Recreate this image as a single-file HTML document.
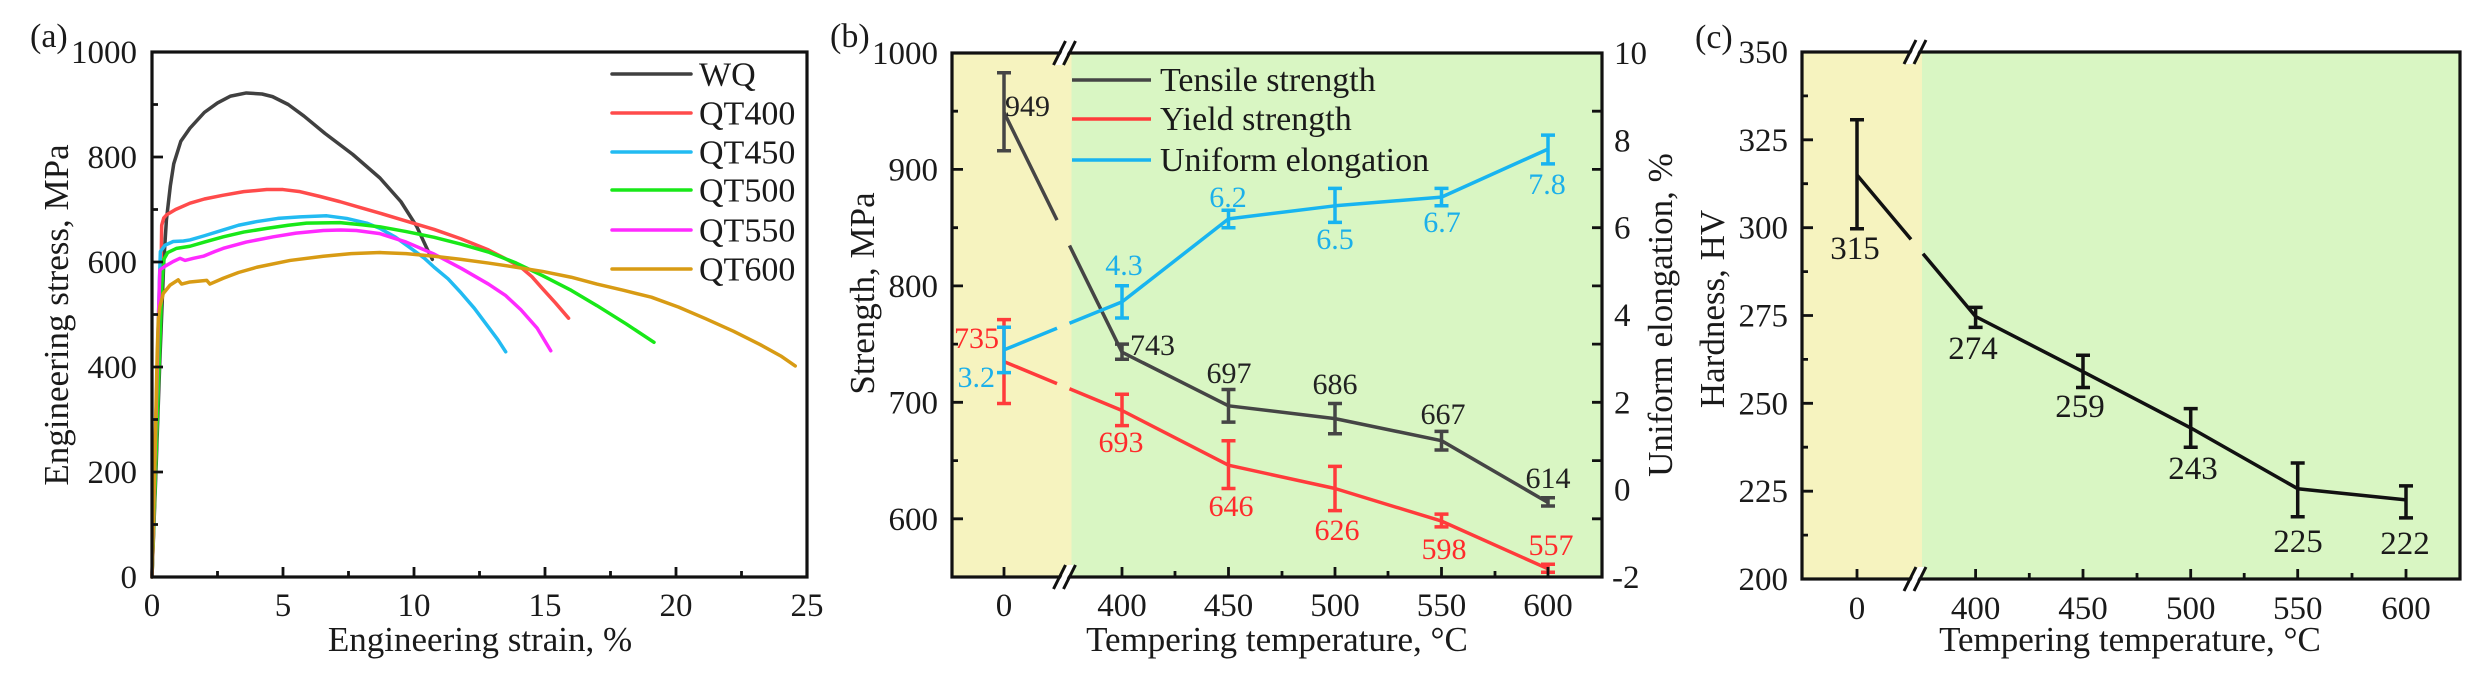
<!DOCTYPE html>
<html><head><meta charset="utf-8"><style>html,body{margin:0;padding:0;background:#fff}svg{display:block}text{font-family:"Liberation Serif",serif}</style></head>
<body>
<svg width="2475" height="673" viewBox="0 0 2475 673" xmlns="http://www.w3.org/2000/svg">
<rect width="2475" height="673" fill="#fff"/>

<!-- ============ Panel (a) ============ -->
<g fill="none" stroke-width="3.5" stroke-linejoin="round" stroke-linecap="round">
<g transform="translate(152 577) scale(26.2 -0.525)">
<polyline vector-effect="non-scaling-stroke" stroke="#404040" points="0,0 0.15,200 0.3,413 0.45,600 0.55,680 0.7,745 0.83,787 1.1,830 1.45,855 2,885 2.5,903 3,916 3.6,922 4.2,920 4.6,915 5.2,900 5.8,878 6.6,845 7.66,805 8.7,760 9.5,715 10.1,668 10.5,625 10.7,605"/>
<polyline vector-effect="non-scaling-stroke" stroke="#ff4b4b" points="0,0 0.2,300 0.35,600 0.37,670 0.45,684 0.56,690 0.9,700 1.45,712 2,720 2.7,727 3.5,734 4.38,738 5,738 5.65,734 6.4,725 7.17,715 8,703 8.7,693 9.7,678 10.77,662 11.8,644 12.84,623 13.5,606 14.08,590 14.5,572 14.91,549 15.4,522 15.9,493"/>
<polyline vector-effect="non-scaling-stroke" stroke="#22bbf2" points="0,0 0.15,300 0.28,560 0.32,620 0.5,632 0.81,639 1.2,640 1.45,642 2,650 2.72,661 3.3,670 4,677 4.8,683 5.65,686 6.67,688 7.43,683 8.2,674 8.7,664 9.3,647 9.94,624 10.4,607 10.77,590 11.3,568 11.8,541 12.3,512 12.84,476 13.2,452 13.5,429"/>
<polyline vector-effect="non-scaling-stroke" stroke="#18e818" points="0,0 0.2,300 0.38,560 0.45,605 0.6,618 0.94,626 1.45,630 2,638 2.72,648 3.5,657 4.38,664 5.2,670 5.9,674 7.17,675 8,671 8.7,667 9.7,658 10.77,647 11.8,634 12.84,619 13.9,598 14.91,574 16,546 16.98,517 18.1,482 19.16,447"/>
<polyline vector-effect="non-scaling-stroke" stroke="#ff2aff" points="0,0 0.15,300 0.26,520 0.3,585 0.5,592 0.81,601 1.07,607 1.26,603 1.58,607 1.96,611 2.4,620 2.72,626 3.6,638 4.63,648 5.5,655 6.54,660 7.2,661 7.8,660 8.7,654 9.7,638 10.77,615 11.8,588 12.84,558 13.5,536 14.08,509 14.7,474 15.22,431"/>
<polyline vector-effect="non-scaling-stroke" stroke="#d89b14" points="0,0 0.12,250 0.2,430 0.24,490 0.3,515 0.43,540 0.69,556 1,566 1.13,558 1.45,562 2.09,565 2.21,558 2.72,569 3.3,580 4,590 5.27,603 6.54,611 7.6,616 8.7,618 9.7,616 10.77,611 11.8,605 12.84,598 13.9,590 14.91,582 16,571 16.98,558 18,546 19.06,533 20.1,514 21.13,492 22.2,468 23.2,443 24,421 24.55,402"/>
</g>
<!-- legend a -->
<path stroke="#404040" d="M612 74H691"/>
<path stroke="#ff4b4b" d="M612 113H691"/>
<path stroke="#22bbf2" d="M612 152H691"/>
<path stroke="#18e818" d="M612 190H691"/>
<path stroke="#ff2aff" d="M612 230H691"/>
<path stroke="#d89b14" d="M612 269H691"/>
</g>
<rect x="152" y="52" width="655" height="525" fill="none" stroke="#111" stroke-width="3.2"/>
<path stroke="#111" stroke-width="2.8" fill="none" d="M152 157h11M152 262h11M152 367h11M152 472h11M152 104.5h6M152 209.5h6M152 314.5h6M152 419.5h6M152 524.5h6M283 577v-10M414 577v-10M545 577v-10M676 577v-10M217.5 577v-6M348.5 577v-6M479.5 577v-6M610.5 577v-6M741.5 577v-6"/>
<g font-size="33" fill="#1a1a1a" text-anchor="end">
<text x="137" y="63">1000</text><text x="137" y="168">800</text><text x="137" y="273">600</text><text x="137" y="378">400</text><text x="137" y="483">200</text><text x="137" y="588">0</text>
</g>
<g font-size="33" fill="#1a1a1a" text-anchor="middle">
<text x="152" y="616">0</text><text x="283" y="616">5</text><text x="414" y="616">10</text><text x="545" y="616">15</text><text x="676" y="616">20</text><text x="807" y="616">25</text>
</g>
<g font-size="34" fill="#1a1a1a">
<text x="699" y="85.5">WQ</text><text x="699" y="124.5">QT400</text><text x="699" y="163.5">QT450</text><text x="699" y="201.5">QT500</text><text x="699" y="241.5">QT550</text><text x="699" y="280.5">QT600</text>
</g>
<text x="480" y="651" font-size="35" fill="#1a1a1a" text-anchor="middle">Engineering strain, %</text>
<text transform="translate(68 315) rotate(-90)" font-size="35" fill="#1a1a1a" text-anchor="middle">Engineering stress, MPa</text>
<text x="30" y="47" font-size="34" fill="#1a1a1a">(a)</text>

<!-- ============ Panel (b) ============ -->
<rect x="952" y="53" width="120" height="524" fill="#f6f3bf"/>
<rect x="1071.5" y="53" width="530.5" height="524" fill="#d9f6c3"/>
<g fill="none" stroke-width="3.5" stroke-linejoin="round">
<path stroke="#454545" d="M1004 112.4L1057 220.1M1069.5 245.5L1122 352.2L1228.5 405.8L1335 418.6L1441.5 440.7L1548 502.5"/>
<path stroke="#454545" d="M1004 72.8V150.8M997 72.8h14M997 150.8h14M1122 344.1V359.2M1115 344.1h14M1115 359.2h14M1228.5 389.5V422.1M1221.5 389.5h14M1221.5 422.1h14M1335 403.5V433.8M1328 403.5h14M1328 433.8h14M1441.5 431.4V450M1434.5 431.4h14M1434.5 450h14M1548 497.8V506M1541 497.8h14M1541 506h14"/>
<path stroke="#ff3b3b" d="M1004 361.6L1057 383.6M1069.5 388.7L1122 410.5L1228.5 465.2L1335 488.5L1441.5 521.1L1548 568.8"/>
<path stroke="#ff3b3b" d="M1004 319.6V403.5M997 319.6h14M997 403.5h14M1122 394.2V425.6M1115 394.2h14M1115 425.6h14M1228.5 440.7V488.5M1221.5 440.7h14M1221.5 488.5h14M1335 466.4V510.6M1328 466.4h14M1328 510.6h14M1441.5 514.1V526.9M1434.5 514.1h14M1434.5 526.9h14M1548 564.2V572.3M1541 564.2h14M1541 572.3h14"/>
<path stroke="#18b4f0" d="M1004 349.9L1057 328.3M1069.5 323.3L1122 301.9L1228.5 218.9L1335 205.8L1441.5 197.1L1548 149.1"/>
<path stroke="#18b4f0" d="M1004 327.2V372.6M997 327.2h14M997 372.6h14M1122 285.7V318M1115 285.7h14M1115 318h14M1228.5 210.2V227.7M1221.5 210.2h14M1221.5 227.7h14M1335 188.4V222.4M1328 188.4h14M1328 222.4h14M1441.5 188.4V205.8M1434.5 188.4h14M1434.5 205.8h14M1548 135.1V163.9M1541 135.1h14M1541 163.9h14"/>
<!-- legend b -->
<path stroke="#454545" d="M1072 80H1151"/>
<path stroke="#ff3b3b" d="M1072 119H1151"/>
<path stroke="#18b4f0" d="M1072 160H1151"/>
</g>
<rect x="952" y="53" width="650" height="524" fill="none" stroke="#111" stroke-width="3.2"/>
<path stroke="#111" stroke-width="2.8" fill="none" d="M952 169.4h11M952 285.9h11M952 402.3h11M952 518.8h11M952 111.2h6M952 227.7h6M952 344.1h6M952 460.6h6M1602 111.2h-10M1602 169.4h-10M1602 227.7h-10M1602 285.9h-10M1602 344.1h-10M1602 402.3h-10M1602 460.6h-10M1602 518.8h-10M1004 577v-10M1122 577v-10M1228.5 577v-10M1335 577v-10M1441.5 577v-10M1548 577v-10M1175 577v-6M1282 577v-6M1388 577v-6M1495 577v-6"/>
<!-- breaks b -->
<polygon points="1055.5,65 1067.5,41 1073.5,41 1061.5,65" fill="#fff"/>
<polygon points="1055.5,589 1067.5,565 1073.5,565 1061.5,589" fill="#fff"/>
<path stroke="#111" stroke-width="3" fill="none" d="M1053.5 65L1065.5 41M1063.5 65L1075.5 41M1053.5 589L1065.5 565M1063.5 589L1075.5 565"/>
<g font-size="33" fill="#1a1a1a" text-anchor="end">
<text x="938" y="64">1000</text><text x="938" y="180.4">900</text><text x="938" y="296.9">800</text><text x="938" y="413.3">700</text><text x="938" y="529.8">600</text>
</g>
<g font-size="33" fill="#1a1a1a">
<text x="1614" y="64">10</text><text x="1614" y="151.3">8</text><text x="1614" y="238.7">6</text><text x="1614" y="326">4</text><text x="1614" y="413.3">2</text><text x="1614" y="500.7">0</text><text x="1612" y="588">-2</text>
</g>
<g font-size="33" fill="#1a1a1a" text-anchor="middle">
<text x="1004" y="616">0</text><text x="1122" y="616">400</text><text x="1228.5" y="616">450</text><text x="1335" y="616">500</text><text x="1441.5" y="616">550</text><text x="1548" y="616">600</text>
</g>
<g font-size="34" fill="#1a1a1a">
<text x="1160" y="91">Tensile strength</text><text x="1160" y="130">Yield strength</text><text x="1160" y="171">Uniform elongation</text>
</g>
<g font-size="30" fill="#222">
<text x="1005" y="116">949</text><text x="1130" y="355">743</text>
<g text-anchor="middle"><text x="1229" y="383">697</text><text x="1335" y="394">686</text><text x="1443" y="424">667</text><text x="1548" y="488">614</text></g>
</g>
<g font-size="30" fill="#ff2b2b">
<text x="999" y="348" text-anchor="end">735</text>
<g text-anchor="middle"><text x="1121" y="452">693</text><text x="1231" y="516">646</text><text x="1337" y="540">626</text><text x="1444" y="559">598</text><text x="1551" y="555">557</text></g>
</g>
<g font-size="30" fill="#1cb0ea">
<text x="995" y="387" text-anchor="end">3.2</text>
<g text-anchor="middle"><text x="1124" y="275">4.3</text><text x="1228" y="207">6.2</text><text x="1335" y="249">6.5</text><text x="1442" y="232">6.7</text><text x="1547" y="194">7.8</text></g>
</g>
<text x="1277" y="651" font-size="35" fill="#1a1a1a" text-anchor="middle">Tempering temperature, °C</text>
<text transform="translate(874 293.5) rotate(-90)" font-size="35" fill="#1a1a1a" text-anchor="middle">Strength, MPa</text>
<text transform="translate(1672 315) rotate(-90)" font-size="35" fill="#1a1a1a" text-anchor="middle">Uniform elongation, %</text>
<text x="830" y="47" font-size="34" fill="#1a1a1a">(b)</text>

<!-- ============ Panel (c) ============ -->
<rect x="1802" y="52" width="120.5" height="527" fill="#f6f3bf"/>
<rect x="1922" y="52" width="538" height="527" fill="#d9f6c3"/>
<g fill="none" stroke="#111" stroke-width="3.5" stroke-linejoin="round">
<path d="M1857 175L1911 239.4M1923 253.7L1975.6 316.5L2083 371.7L2190.7 427.9L2297.7 488.7L2406 499.9"/>
<path d="M1857 119.8V228.7M1850 119.8h14M1850 228.7h14M1975.6 307.4V327.4M1968.6 307.4h14M1968.6 327.4h14M2083 355.2V387.5M2076 355.2h14M2076 387.5h14M2190.7 408.6V447.2M2183.7 408.6h14M2183.7 447.2h14M2297.7 463V516.8M2290.7 463h14M2290.7 516.8h14M2406 485.9V517.9M2399 485.9h14M2399 517.9h14"/>
</g>
<rect x="1802" y="52" width="658" height="527" fill="none" stroke="#111" stroke-width="3.2"/>
<path stroke="#111" stroke-width="2.8" fill="none" d="M1802 139.8h11M1802 227.7h11M1802 315.5h11M1802 403.3h11M1802 491.2h11M1802 95.9h6M1802 183.7h6M1802 271.6h6M1802 359.4h6M1802 447.2h6M1802 535.1h6M1857 579v-10M1975.6 579v-10M2083 579v-10M2190.7 579v-10M2297.7 579v-10M2406 579v-10M2029.3 579v-6M2137 579v-6M2244.2 579v-6M2352 579v-6"/>
<polygon points="1906,64 1918,40 1924,40 1912,64" fill="#fff"/>
<polygon points="1906,591 1918,567 1924,567 1912,591" fill="#fff"/>
<path stroke="#111" stroke-width="3" fill="none" d="M1904 64L1916 40M1914 64L1926 40M1904 591L1916 567M1914 591L1926 567"/>
<g font-size="33" fill="#1a1a1a" text-anchor="end">
<text x="1788" y="63">350</text><text x="1788" y="150.8">325</text><text x="1788" y="238.7">300</text><text x="1788" y="326.5">275</text><text x="1788" y="414.3">250</text><text x="1788" y="502.2">225</text><text x="1788" y="590">200</text>
</g>
<g font-size="33" fill="#1a1a1a" text-anchor="middle">
<text x="1857" y="619">0</text><text x="1975.6" y="619">400</text><text x="2083" y="619">450</text><text x="2190.7" y="619">500</text><text x="2297.7" y="619">550</text><text x="2406" y="619">600</text>
</g>
<g font-size="33" fill="#1a1a1a" text-anchor="middle">
<text x="1855" y="259">315</text><text x="1973" y="359">274</text><text x="2080" y="417">259</text><text x="2193" y="479">243</text><text x="2298" y="552">225</text><text x="2405" y="554">222</text>
</g>
<text x="2130" y="651" font-size="35" fill="#1a1a1a" text-anchor="middle">Tempering temperature, °C</text>
<text transform="translate(1724 309) rotate(-90)" font-size="35" fill="#1a1a1a" text-anchor="middle">Hardness, HV</text>
<text x="1695" y="48" font-size="34" fill="#1a1a1a">(c)</text>
</svg>
</body></html>
